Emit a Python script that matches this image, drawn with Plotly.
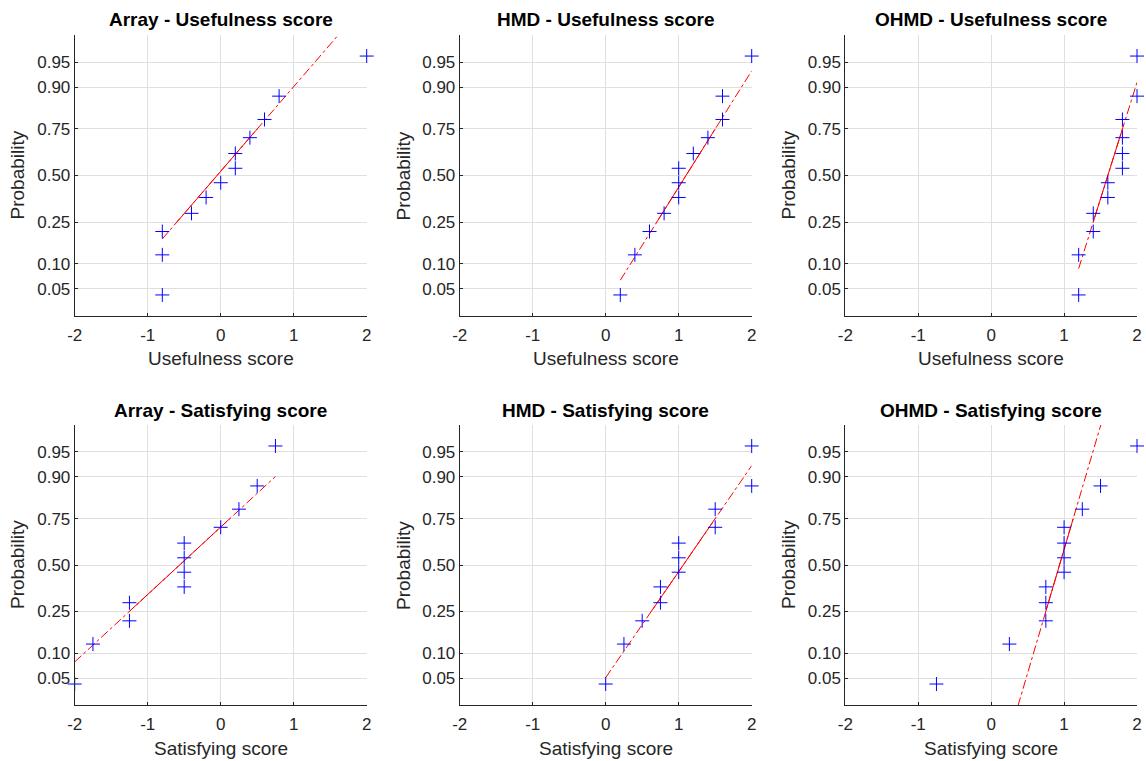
import math
import plotly.graph_objects as go
from statistics import NormalDist

nd = NormalDist()

# ---- data (sorted scores, 12 participants each) ----
array_usefulness = [-0.8, -0.8, -0.8, -0.4, -0.2, 0.0, 0.2, 0.2, 0.4, 0.6, 0.8, 2.0]
hmd_usefulness = [0.2, 0.4, 0.6, 0.8, 1.0, 1.0, 1.0, 1.2, 1.4, 1.6, 1.6, 2.0]
ohmd_usefulness = [1.2, 1.2, 1.4, 1.4, 1.6, 1.6, 1.8, 1.8, 1.8, 1.8, 2.0, 2.0]
array_satisfying = [-2.0, -1.75, -1.25, -1.25, -0.5, -0.5, -0.5, -0.5, 0.0, 0.25, 0.5, 0.75]
hmd_satisfying = [0.0, 0.25, 0.5, 0.75, 0.75, 1.0, 1.0, 1.0, 1.5, 1.5, 2.0, 2.0]
ohmd_satisfying = [-0.75, 0.25, 0.75, 0.75, 0.75, 1.0, 1.0, 1.0, 1.0, 1.25, 1.5, 2.0]

titles = ["Array - Usefulness score", "HMD - Usefulness score", "OHMD - Usefulness score",
          "Array - Satisfying score", "HMD - Satisfying score", "OHMD - Satisfying score"]
xlabels = ["Usefulness score"] * 3 + ["Satisfying score"] * 3
ylabel = "Probability"
prob_ticks = [0.05, 0.10, 0.25, 0.50, 0.75, 0.90, 0.95]
prob_labels = ["0.05", "0.10", "0.25", "0.50", "0.75", "0.90", "0.95"]
x_ticks = [-2, -1, 0, 1, 2]
x_labels = ["-2", "-1", "0", "1", "2"]

series = [array_usefulness, hmd_usefulness, ohmd_usefulness,
          array_satisfying, hmd_satisfying, ohmd_satisfying]

W, H = 1146, 761
col_px = [(74.7, 366.7), (459.7, 751.7), (845.3, 1137.0)]
row_px = [(35.0, 316.0), (425.0, 705.0)]
ylab_x_px = [17, 403, 788]
title_y_px = [20, 410]
xlab_y_px = [358, 748]

FONT = "Liberation Sans, Arial, Helvetica, sans-serif"
DARK = "#262626"
GRID = "#dfdfdf"


def prctile(x, p):
    xs = sorted(x)
    n = len(xs)
    k = p / 100.0 * n + 0.5
    if k <= 1:
        return xs[0]
    if k >= n:
        return xs[-1]
    lo = int(math.floor(k))
    f = k - lo
    return xs[lo - 1] + f * (xs[lo] - xs[lo - 1])


fig = go.Figure()
annotations = []
layout = {}

for idx, data in enumerate(series):
    r, c = divmod(idx, 3)
    ax = "" if idx == 0 else str(idx + 1)
    xs = sorted(data)
    n = len(xs)
    probs = [(i - 0.5) / n for i in range(1, n + 1)]
    zs = [nd.inv_cdf(p) for p in probs]

    q1 = prctile(xs, 25)
    q3 = prctile(xs, 75)
    z1 = nd.inv_cdf(0.25)
    z3 = nd.inv_cdf(0.75)
    slope = (z3 - z1) / (q3 - q1)
    xmin, xmax = xs[0], xs[-1]

    def fy(x):
        return z1 + slope * (x - q1)

    # dash-dot extension over data range
    fig.add_trace(go.Scatter(x=[xmin, xmax], y=[fy(xmin), fy(xmax)], mode="lines",
                             line=dict(color="rgb(255,0,0)", width=1, dash="dashdot"),
                             xaxis="x" + ax, yaxis="y" + ax, showlegend=False, hoverinfo="skip"))
    # solid between quartiles
    fig.add_trace(go.Scatter(x=[q1, q3], y=[fy(q1), fy(q3)], mode="lines",
                             line=dict(color="rgb(255,0,0)", width=1),
                             xaxis="x" + ax, yaxis="y" + ax, showlegend=False, hoverinfo="skip"))
    # data markers
    fig.add_trace(go.Scatter(x=xs, y=zs, mode="markers",
                             marker=dict(symbol="cross-thin", size=10,
                                         line=dict(color="rgb(0,0,255)", width=1)),
                             cliponaxis=False,
                             xaxis="x" + ax, yaxis="y" + ax, showlegend=False))

    zlim = nd.inv_cdf(0.25 / n)
    x0, x1 = col_px[c]
    yt, yb = row_px[r]
    layout["xaxis" + ax] = dict(
        domain=[x0 / W, x1 / W], range=[-2, 2], anchor="y" + ax,
        tickvals=x_ticks, ticktext=x_labels, showgrid=True, gridcolor=GRID, gridwidth=1,
        zeroline=False, showline=True, linecolor=DARK, linewidth=1, mirror=False,
        ticks="inside", ticklen=3, tickcolor=DARK, ticklabelstandoff=4,
        tickfont=dict(family=FONT, size=17, color=DARK), automargin=False)
    layout["yaxis" + ax] = dict(
        domain=[1 - yb / H, 1 - yt / H], range=[zlim, -zlim], anchor="x" + ax,
        tickvals=[nd.inv_cdf(p) for p in prob_ticks], ticktext=prob_labels,
        showgrid=True, gridcolor=GRID, gridwidth=1,
        zeroline=False, showline=True, linecolor=DARK, linewidth=1, mirror=False,
        ticks="inside", ticklen=3, tickcolor=DARK,
        tickfont=dict(family=FONT, size=17, color=DARK), automargin=False)

    cx = (x0 + x1) / 2 / W
    annotations.append(dict(text="<b>" + titles[idx] + "</b>", x=cx, y=1 - title_y_px[r] / H,
                            xref="paper", yref="paper", showarrow=False, xanchor="center",
                            yanchor="middle", font=dict(family=FONT, size=19, color="#000000")))
    annotations.append(dict(text=xlabels[idx], x=cx, y=1 - xlab_y_px[r] / H,
                            xref="paper", yref="paper", showarrow=False, xanchor="center",
                            yanchor="middle", font=dict(family=FONT, size=19, color=DARK)))
    annotations.append(dict(text=ylabel, x=ylab_x_px[c] / W, y=1 - (yt + yb) / 2 / H,
                            xref="paper", yref="paper", showarrow=False, xanchor="center",
                            yanchor="middle", textangle=-90,
                            font=dict(family=FONT, size=19, color=DARK)))

fig.update_layout(width=W, height=H, margin=dict(l=0, r=0, t=0, b=0),
                  paper_bgcolor="white", plot_bgcolor="white", hovermode=False,
                  annotations=annotations, **layout)

fig.write_html("out.html", config={"displayModeBar": False},
               post_script="document.body.style.margin='0px';"
                           "document.body.style.overflow='hidden';")
